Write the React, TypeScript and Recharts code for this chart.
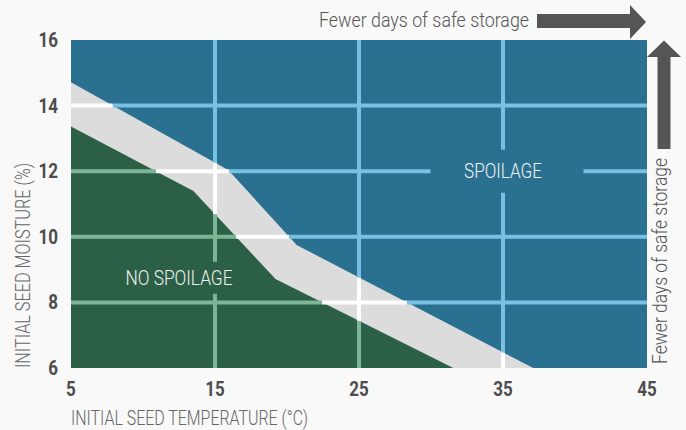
import React from 'react';
import { ComposedChart, Area, Line, Scatter, XAxis, YAxis } from 'recharts';

// ---- data ----
const temperatureTicks = [5, 15, 25, 35, 45];
const moistureTicks = [6, 8, 10, 12, 14, 16];
const gridTemps = [15, 25, 35];
const gridMoistures = [8, 10, 12, 14];

// boundary between NO SPOILAGE (green) and the transition band (grey)
const safeBoundary = [
  { t: 5, m: 13.36 },
  { t: 13.5, m: 11.4 },
  { t: 19.2, m: 8.71 },
  { t: 31.55, m: 6 },
];
// boundary between the transition band (grey) and SPOILAGE (blue)
const spoilBoundary = [
  { t: 5, m: 14.71 },
  { t: 15.92, m: 12.04 },
  { t: 20.67, m: 9.75 },
  { t: 37.1, m: 6 },
];
const fullRange = [
  { t: 5, m: 16 },
  { t: 45, m: 16 },
];
const regionLabels = [
  { t: 12.5, m: 8.75, text: 'NO SPOILAGE' },
  { t: 35, m: 12, text: 'SPOILAGE' },
];
const arrowText = 'Fewer days of safe storage';
const xTitle = 'INITIAL SEED TEMPERATURE (°C)';
const yTitle = 'INITIAL SEED MOISTURE (%)';

// ---- styles ----
const BLUE = '#2a7090';
const GREEN = '#2c6046';
const GREY = '#dcdcdc';
const BLUE_GRID = '#78c0e4';
const GREEN_GRID = '#7db696';
const WHITE_GRID = '#ffffff';
const FONT = 'Roboto, "Noto Sans", sans-serif';

type P = { t: number; m: number };

function mAt(b: P[], t: number): number | null {
  if (t <= b[0].t) return b[0].m;
  for (let i = 0; i < b.length - 1; i++) {
    const a = b[i], c = b[i + 1];
    if (t >= a.t && t <= c.t) return a.m + ((c.m - a.m) * (t - a.t)) / (c.t - a.t);
  }
  return null;
}
function tAt(b: P[], m: number): number | null {
  if (m > b[0].m) return null;
  for (let i = 0; i < b.length - 1; i++) {
    const a = b[i], c = b[i + 1];
    if (m <= a.m && m >= c.m) return a.t + ((c.t - a.t) * (a.m - m)) / (a.m - c.m);
  }
  return null;
}

type Seg = { color: string; data: P[] };
const segments: Seg[] = [];
gridMoistures.forEach((m) => {
  const tg = tAt(safeBoundary, m);
  const tu = tAt(spoilBoundary, m) as number;
  if (tg !== null) segments.push({ color: GREEN_GRID, data: [{ t: 5, m }, { t: tg, m }] });
  segments.push({ color: WHITE_GRID, data: [{ t: tg ?? 5, m }, { t: tu, m }] });
  segments.push({ color: BLUE_GRID, data: [{ t: tu, m }, { t: 45, m }] });
});
gridTemps.forEach((t) => {
  const mg = mAt(safeBoundary, t);
  const mu = mAt(spoilBoundary, t);
  if (mg !== null) segments.push({ color: GREEN_GRID, data: [{ t, m: 6 }, { t, m: mg }] });
  const start = mg ?? 6;
  if (mu !== null) {
    segments.push({ color: WHITE_GRID, data: [{ t, m: start }, { t, m: mu }] });
    segments.push({ color: BLUE_GRID, data: [{ t, m: mu }, { t, m: 16 }] });
  } else {
    segments.push({ color: BLUE_GRID, data: [{ t, m: 6 }, { t, m: 16 }] });
  }
});

const XTick = (props: any) => {
  const { x, y, payload } = props;
  return (
    <g transform={`translate(${x},${y + 20}) scale(0.85,1)`}>
      <text x={0} y={0} textAnchor="middle" fontFamily={FONT} fontWeight={700} fontSize={20} fill="#4d4d4d">
        {payload.value}
      </text>
    </g>
  );
};
const YTick = (props: any) => {
  const { x, y, payload } = props;
  return (
    <g transform={`translate(${x - 5},${y + 7}) scale(0.85,1)`}>
      <text x={0} y={0} textAnchor="end" fontFamily={FONT} fontWeight={700} fontSize={20} fill="#4d4d4d">
        {payload.value}
      </text>
    </g>
  );
};

const labelStyles = [
  { bg: GREEN, w: 130, h: 32, dx: 0, len: 107 },
  { bg: BLUE, w: 153, h: 43, dx: 4, len: 78 },
];

const LabelShape = (props: any) => {
  const { cx, cy, payload, index } = props;
  const i = typeof index === 'number' ? index : regionLabels.findIndex((l) => l.text === payload.text);
  const s = labelStyles[i] || labelStyles[0];
  return (
    <g>
      <rect x={cx + s.dx - s.w / 2} y={cy - s.h / 2} width={s.w} height={s.h} fill={s.bg} />
      <text
        x={cx}
        y={cy + 7}
        textAnchor="middle"
        fontFamily={FONT}
        fontWeight={300}
        fontSize={20}
        fill="#f2f2f2"
        textLength={s.len}
        lengthAdjust="spacingAndGlyphs"
      >
        {payload.text}
      </text>
    </g>
  );
};

export default function App() {
  return (
    <div style={{ position: 'absolute', left: 0, top: 0, width: 686, height: 430, background: '#f9f9f9' }}>
      <ComposedChart width={686} height={430} margin={{ top: 40, right: 39, bottom: 32, left: 31 }}>
        <XAxis
          dataKey="t"
          type="number"
          domain={[5, 45]}
          ticks={temperatureTicks}
          allowDataOverflow
          axisLine={false}
          tickLine={false}
          tickSize={6}
          tickMargin={2}
          height={30}
          tick={<XTick />}
          interval={0}
        />
        <YAxis
          type="number"
          domain={[6, 16]}
          ticks={moistureTicks}
          allowDataOverflow
          axisLine={false}
          tickLine={false}
          tickSize={6}
          tickMargin={2}
          width={40}
          tick={<YTick />}
          interval={0}
        />
        <Area data={fullRange} dataKey="m" type="linear" baseValue={6} stroke="none" fill={BLUE} fillOpacity={1} isAnimationActive={false} activeDot={false} />
        <Area data={spoilBoundary} dataKey="m" type="linear" baseValue={6} stroke="none" fill={GREY} fillOpacity={1} isAnimationActive={false} activeDot={false} />
        <Area data={safeBoundary} dataKey="m" type="linear" baseValue={6} stroke="none" fill={GREEN} fillOpacity={1} isAnimationActive={false} activeDot={false} />
        {segments.map((s, i) => (
          <Line
            key={i}
            data={s.data}
            dataKey="m"
            type="linear"
            stroke={s.color}
            strokeWidth={4}
            dot={false}
            activeDot={false}
            isAnimationActive={false}
          />
        ))}
        <Scatter data={regionLabels} dataKey="m" shape={<LabelShape />} isAnimationActive={false} />
      </ComposedChart>
      <svg width={686} height={430} style={{ position: 'absolute', left: 0, top: 0, pointerEvents: 'none' }}>
        <text x={529} y={27} textAnchor="end" fontFamily={FONT} fontWeight={300} fontSize={20} fill="#555" textLength={210} lengthAdjust="spacingAndGlyphs">
          {arrowText}
        </text>
        <polygon points="537,14 630,14 630,5 646,22 630,39 630,28 537,28" fill="#555" />
        <polygon points="657.5,149 657.5,57 647,57 664,40.5 681,57 670.5,57 670.5,149" fill="#555" />
        <text transform="translate(667,261) rotate(-90)" textAnchor="middle" fontFamily={FONT} fontWeight={300} fontSize={20} fill="#555" textLength={206} lengthAdjust="spacingAndGlyphs">
          {arrowText}
        </text>
        <text x={71} y={425} textAnchor="start" fontFamily={FONT} fontWeight={300} fontSize={20} fill="#666" textLength={237} lengthAdjust="spacingAndGlyphs">
          {xTitle}
        </text>
        <text transform="translate(30,265.5) rotate(-90)" textAnchor="middle" fontFamily={FONT} fontWeight={300} fontSize={20} fill="#666" textLength={205} lengthAdjust="spacingAndGlyphs">
          {yTitle}
        </text>
      </svg>
    </div>
  );
}
